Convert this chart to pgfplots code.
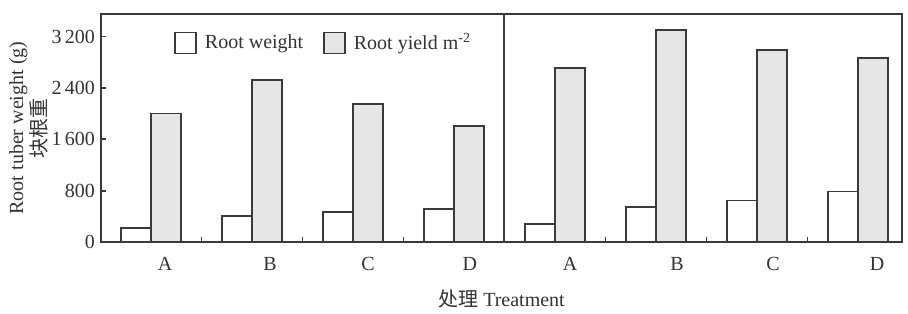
\documentclass[border=0pt]{standalone}
\usepackage{pgfplots}
\pgfplotsset{compat=1.18}
\usepackage{fontspec}
\setmainfont{Liberation Serif}
\newfontfamily\cjk{Noto Sans CJK SC}
\definecolor{ink}{HTML}{3A3A3A}
\definecolor{txt}{HTML}{333333}
\definecolor{barfill}{HTML}{E6E6E6}
\begin{document}
\begin{tikzpicture}
\begin{axis}[
  scale only axis, width=400.5pt, height=114pt,
  xmin=-0.495, xmax=7.436, ymin=0, ymax=3550,
  ybar=0pt, bar width=15pt,
  axis line style={ink, line width=0.9pt},
  tick align=inside,
  xtick pos=bottom, ytick pos=left,
  xtick={0.139,1.178,2.149,3.158,4.149,5.208,6.158,7.188},
  xticklabels={A,B,C,D,A,B,C,D},
  minor xtick={0.5,1.5,2.5,4.5,5.5,6.5},
  major x tick style={draw=none},
  minor x tick style={ink, line width=0.9pt},
  minor tick length=2.5pt,
  ytick={0,800,1600,2400,3200},
  yticklabels={0,800,1\,600,2\,400,3\,200},
  major y tick style={ink, line width=0.9pt},
  major tick length=2.5pt,
  tick label style={font=\fontsize{10}{12}\selectfont, text=txt},
  y tick label style={xshift=0.5pt},
  x tick label style={yshift=-4pt},
  xlabel={{\cjk 处理} Treatment},
  xlabel style={font=\fontsize{10}{12}\selectfont, text=txt, at={(axis description cs:0.5,0)}, anchor=center, yshift=-28.5pt},
  ylabel={Root tuber weight (g)\\{\cjk 块根重}},
  ylabel style={font=\fontsize{10}{11.5}\selectfont, text=txt, align=center, at={(axis description cs:-0.0905,0.5)}, anchor=center},
  legend style={at={(0.0911,0.873)}, anchor=west, draw=none, fill=none, inner sep=0pt,
    legend columns=2, font=\fontsize{10}{12}\selectfont, text=txt,
    nodes={inner xsep=4pt},
    /tikz/every odd column/.append style={column sep=0pt},
    /tikz/every even column/.append style={column sep=6pt}},
  boxlegend/.style={legend image code/.code={\draw[##1, line width=0.8pt] (0pt,-5.25pt) rectangle (10.5pt,5.25pt);}},
]
\addplot[draw=ink, fill=white, line width=0.9pt, boxlegend] coordinates {
  (0,220) (1,405) (2,470) (3,510) (4,285) (5,545) (6,645) (7,785)};
\addplot[draw=ink, fill=barfill, line width=0.9pt, boxlegend] coordinates {
  (0,2000) (1,2520) (2,2145) (3,1805) (4,2715) (5,3300) (6,2985) (7,2865)};
\legend{Root weight, Root yield m\textsuperscript{-2}}
\draw[ink, line width=0.9pt] (axis cs:3.495,0) -- (axis cs:3.495,3550);
\end{axis}
\pgfresetboundingbox
\path (current axis.south west) ++(-50.5pt,-35.5pt) rectangle ++(454pt,156.5pt);
\end{tikzpicture}
\end{document}
